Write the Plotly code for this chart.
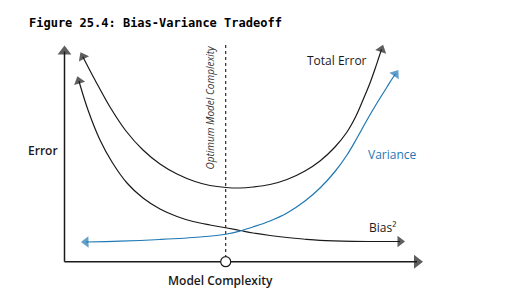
import plotly.graph_objects as go

# ---- data (pixel-aligned conceptual coordinates: x = complexity, y = error) ----
H = 296
total_x = [82.8, 95, 110, 126, 143, 160, 177, 195, 210, 226, 240, 253, 270, 287, 305, 320, 335, 347, 356, 363, 370, 375, 379, 381.5]
total_py = [56.7, 80, 107, 131, 150, 164, 174, 181.5, 185.5, 187.5, 188, 187, 184.5, 179.5, 171, 161, 147, 132, 116, 100, 83, 69, 57, 49.5]

bias_x = [78.9, 88, 100, 112, 127, 143, 160, 177, 193, 210, 227, 240, 253, 270, 287, 303, 320, 353, 380, 400]
bias_py = [81, 110, 140, 162, 183, 198, 209, 216.5, 221.5, 225, 228, 230.5, 233, 235.5, 237.5, 239, 240.3, 241.3, 241.5, 241.5]

var_x = [86, 120, 160, 200, 227, 240, 253, 270, 287, 305, 320, 335, 347, 357, 367, 377, 387, 392, 395.5]
var_py = [242, 241.2, 239.5, 237, 234, 231, 227, 221, 213, 201, 188, 171.5, 155, 138, 120, 103, 87, 79, 74]

origin = (64.5, 261.7)
x_axis_end = 417.0
y_axis_end_py = 51.5
optimum_x = 225.7
dash_top_py = 45

title_text = "Figure 25.4: Bias-Variance Tradeoff"
x_label = "Model Complexity"
y_label = "Error"
optimum_label = "Optimum Model Complexity"
curve_labels = ["Total Error", "Variance", "Bias²"]

BLACK = "#1a1a1a"
BLUE = "#1f78b4"

def Y(py):
    return [H - v for v in py] if isinstance(py, list) else H - py

fig = go.Figure()

def curve(xs, pys, color, width=1.2):
    fig.add_trace(go.Scatter(x=xs, y=Y(pys), mode="lines",
                             line=dict(color=color, width=width, shape="spline", smoothing=1.0),
                             hoverinfo="skip", showlegend=False))

def arrow(p_prev, p_end, color, size=10):
    fig.add_trace(go.Scatter(x=[p_prev[0], p_end[0]], y=[Y(p_prev[1]), Y(p_end[1])], mode="markers",
                             marker=dict(symbol="triangle-up", size=[0, size], color=color,
                                         angleref="previous", line=dict(width=0)),
                             hoverinfo="skip", showlegend=False))

# axes
fig.add_trace(go.Scatter(x=[origin[0], origin[0]], y=[Y(origin[1]), Y(y_axis_end_py)], mode="lines",
                         line=dict(color=BLACK, width=1.5), hoverinfo="skip", showlegend=False))
fig.add_trace(go.Scatter(x=[origin[0], x_axis_end], y=[Y(origin[1]), Y(origin[1])], mode="lines",
                         line=dict(color=BLACK, width=1.5), hoverinfo="skip", showlegend=False))
arrow((origin[0], 100), (origin[0], y_axis_end_py), BLACK, 12)
arrow((300, origin[1]), (x_axis_end, origin[1]), BLACK, 12)

# dashed optimum line
fig.add_trace(go.Scatter(x=[optimum_x, optimum_x], y=[Y(dash_top_py), Y(origin[1] - 5)], mode="lines",
                         line=dict(color=BLACK, width=1.1, dash="3px,3px"), hoverinfo="skip", showlegend=False))

# curves
curve(total_x, total_py, BLACK)
curve(bias_x, bias_py, BLACK)
curve(var_x, var_py, BLUE)

arrow((total_x[1], total_py[1]), (total_x[0], total_py[0]), BLACK)
arrow((total_x[-2], total_py[-2]), (total_x[-1], total_py[-1]), BLACK)
arrow((bias_x[1], bias_py[1]), (bias_x[0], bias_py[0]), BLACK)
arrow((bias_x[-2], bias_py[-2]), (bias_x[-1], bias_py[-1]), BLACK)
arrow((var_x[1], var_py[1]), (var_x[0], var_py[0]), BLUE)
arrow((var_x[-2], var_py[-2]), (var_x[-1], var_py[-1]), BLUE)

# optimum circle
fig.add_trace(go.Scatter(x=[optimum_x], y=[Y(origin[1])], mode="markers",
                         marker=dict(symbol="circle", size=10, color="white", line=dict(color=BLACK, width=1.2)),
                         hoverinfo="skip", showlegend=False))

lab = dict(family="Open Sans", size=12, color=BLACK)
anns = [
    dict(x=27, y=Y(22.5), text="<b>" + title_text + "</b>", xanchor="left",
         font=dict(family="DejaVu Sans Mono", size=12, color="black")),
    dict(x=42.5, y=Y(150), text=y_label, font=dict(family="Open Sans", size=12, color=BLACK, weight=600)),
    dict(x=220, y=Y(280), text=x_label, font=dict(family="Open Sans", size=12, color=BLACK, weight=600)),
    dict(x=209, y=Y(107.5), text="<i>" + optimum_label + "</i>", textangle=-90,
         font=dict(family="Open Sans", size=10, color="#333333")),
    dict(x=337, y=Y(60.5), text=curve_labels[0], font=lab),
    dict(x=392, y=Y(154.5), text=curve_labels[1], font=dict(family="Open Sans", size=12, color=BLUE)),
    dict(x=382, y=Y(227.5), text=curve_labels[2], font=lab),
]
for a in anns:
    a.update(xref="x", yref="y", showarrow=False, yanchor="middle")
    a.setdefault("xanchor", "center")
    fig.add_annotation(**a)

fig.update_layout(width=532, height=296, margin=dict(l=0, r=0, t=0, b=0),
                  paper_bgcolor="white", plot_bgcolor="white",
                  xaxis=dict(range=[0, 532], visible=False, fixedrange=True),
                  yaxis=dict(range=[0, H], visible=False, fixedrange=True))

fig.write_html("out.html")
